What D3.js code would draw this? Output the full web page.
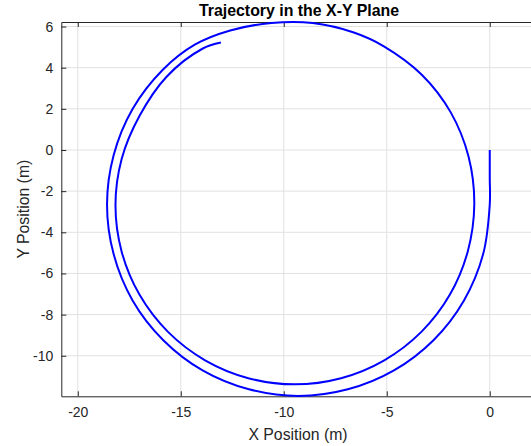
<!DOCTYPE html>
<html>
<head>
<meta charset="utf-8">
<script src="https://cdn.jsdelivr.net/npm/d3@7"></script>
<style>
  body { margin: 0; background: #fff; }
  text { font-family: "Liberation Sans", Arial, sans-serif; }
</style>
</head>
<body>
<script>
// trajectory points (m), in the order the path is driven
var trajX = [0, 0, 0, -0.32, -1.25, -2.72, -4.65, -6.89, -9.29, -11.69, -13.94, -15.86, -17.34,
  -18.26, -18.58, -18.26, -17.34, -15.86, -14.3, -12.6, -10.6, -8.6, -6.6, -5.14, -3.30, -1.90,
  -1.03, -0.75, -1.07, -1.94, -3.32, -5.12, -7.22, -9.47, -11.72, -13.82, -15.62, -17.0,
  -17.87, -18.17, -17.87, -17.0, -15.7, -13.95, -13.05];
var trajY = [0, -1.3, -2.66, -5.06, -7.31, -9.23, -10.71, -11.63, -11.95, -11.63, -10.71, -9.23, -7.31,
  -5.06, -2.66, -0.26, 1.99, 3.91, 5.13, 5.81, 6.17, 6.17, 5.71, 5.04, 3.66, 1.84,
  -0.32, -2.65, -4.94, -7.04, -8.84, -10.22, -11.09, -11.39, -11.09, -10.22, -8.84, -7.04,
  -4.94, -2.69, -0.44, 1.66, 3.55, 4.92, 5.22];

var xTicks = [-20, -15, -10, -5, 0];
var yTicks = [-10, -8, -6, -4, -2, 0, 2, 4, 6];
var xDomain = [-20.8, 2.1];
var yDomain = [-11.97, 6.22];

var width = 531;
var height = 446;
var padding = { top: 22, right: -2, bottom: 49.7, left: 61.3 };

var svg = d3.select('body')
  .append('svg')
  .attr('width', width)
  .attr('height', height);

var xScale = d3.scaleLinear()
  .domain(xDomain)
  .range([padding.left, width - padding.right]);

var yScale = d3.scaleLinear()
  .domain(yDomain)
  .range([height - padding.bottom, padding.top]);

// grid
svg.append('g')
  .selectAll('line')
  .data(xTicks)
  .enter()
  .append('line')
  .attr('x1', function (d) { return xScale(d); })
  .attr('x2', function (d) { return xScale(d); })
  .attr('y1', yScale.range()[0])
  .attr('y2', yScale.range()[1])
  .attr('stroke', '#e1e1e1');

svg.append('g')
  .selectAll('line')
  .data(yTicks)
  .enter()
  .append('line')
  .attr('x1', xScale.range()[0])
  .attr('x2', xScale.range()[1])
  .attr('y1', function (d) { return yScale(d); })
  .attr('y2', function (d) { return yScale(d); })
  .attr('stroke', '#e1e1e1');

// axes, ticks pointing inwards like matlab, plain hyphen for minus
var fmt = function (d) { return String(d); };
var xAxis = d3.axisBottom(xScale).tickValues(xTicks).tickFormat(fmt).tickSizeInner(-5).tickSizeOuter(0).tickPadding(11);
var yAxis = d3.axisLeft(yScale).tickValues(yTicks).tickFormat(fmt).tickSizeInner(-5).tickSizeOuter(0).tickPadding(8);
var xTop = d3.axisTop(xScale).tickValues(xTicks).tickSizeInner(-5).tickSizeOuter(0).tickFormat('');

function styleAxis(g) {
  g.selectAll('path, line').attr('stroke', '#262626');
  g.selectAll('text').attr('fill', '#262626').style('font-size', '14px')
    .style('font-family', '"Liberation Sans", Arial, sans-serif');
}

svg.append('g')
  .attr('class', 'xaxis')
  .attr('transform', 'translate(0,' + yScale.range()[0] + ')')
  .call(xAxis)
  .call(styleAxis);

svg.append('g')
  .attr('class', 'xtop')
  .attr('transform', 'translate(0,' + yScale.range()[1] + ')')
  .call(xTop)
  .call(styleAxis);

svg.append('g')
  .attr('class', 'yaxis')
  .attr('transform', 'translate(' + xScale.range()[0] + ',0)')
  .call(yAxis)
  .call(styleAxis);

// trajectory
var pts = trajX.map(function (x, i) { return [x, trajY[i]]; });
var linePath = d3.line()
  .x(function (d) { return xScale(d[0]); })
  .y(function (d) { return yScale(d[1]); })
  .curve(d3.curveCatmullRom.alpha(0.5));

svg.append('path')
  .attr('class', 'line-path')
  .attr('fill', 'none')
  .attr('stroke', '#0000ff')
  .attr('stroke-width', 2)
  .attr('d', linePath(pts));

// labels
var cx = 298;
svg.append('text')
  .attr('x', cx + 1)
  .attr('y', 16)
  .attr('text-anchor', 'middle')
  .attr('font-weight', 'bold')
  .attr('font-size', '15.9px')
  .attr('fill', '#000')
  .text('Trajectory in the X-Y Plane');

svg.append('text')
  .attr('x', cx)
  .attr('y', 440)
  .attr('text-anchor', 'middle')
  .attr('font-size', '15.8px')
  .attr('fill', '#262626')
  .text('X Position (m)');

svg.append('text')
  .attr('transform', 'translate(29,' + ((yScale.range()[0] + yScale.range()[1]) / 2) + ') rotate(-90)')
  .attr('text-anchor', 'middle')
  .attr('font-size', '15.8px')
  .attr('fill', '#262626')
  .text('Y Position (m)');
</script>
</body>
</html>
